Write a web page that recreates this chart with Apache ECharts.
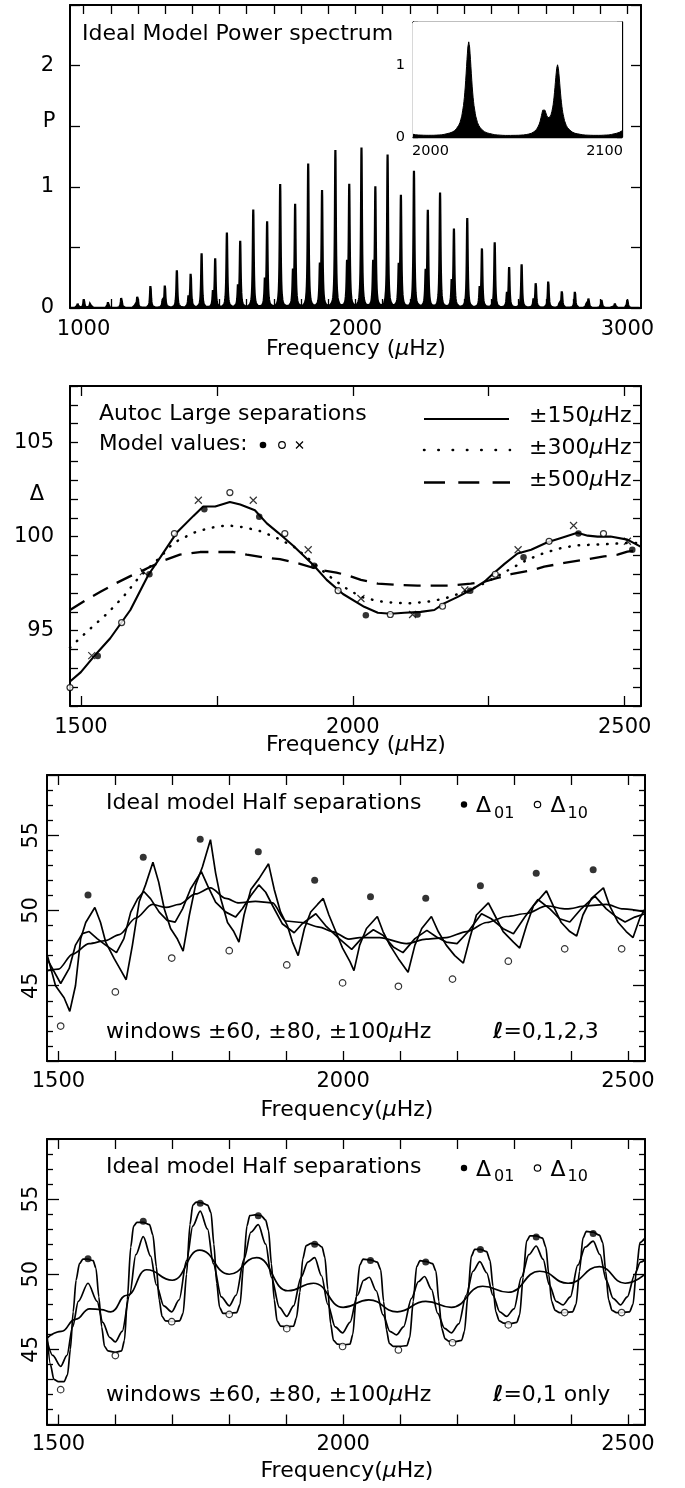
<!DOCTYPE html>
<html>
<head>
<meta charset="utf-8">
<script src="https://cdn.jsdelivr.net/npm/echarts@6/dist/echarts.min.js"></script>
<style>
  html, body { margin: 0; padding: 0; background: #fff; }
  #chart { width: 685px; height: 1488px; }
</style>
</head>
<body>
<div id="chart"></div>
<script>
const FONT = '"DejaVu Sans", "Liberation Sans", sans-serif';
const INK = '#000';
const TEXT_SIZE = 22;
const TICK_SIZE = 21;

// ---------- Panel 1: ideal model power spectrum ----------
// l=1 and l=0 mode frequencies (µHz) with peak power
const SPEC_FREQ = [978, 1001, 1025, 1090, 1139, 1198, 1246, 1299, 1343, 1394, 1434, 1484, 1527, 1576, 1624, 1675,
  1723, 1778, 1826, 1877, 1926, 1977, 2022, 2073, 2118, 2167, 2215, 2266, 2311, 2362, 2411, 2465, 2512, 2565,
  2611, 2663, 2709, 2759, 2807, 2857, 2905, 2954, 3000];
const SPEC_POWER = [0.035, 0.075, 0.05, 0.05, 0.10, 0.11, 0.19, 0.19, 0.31, 0.29, 0.45, 0.40, 0.62, 0.54, 0.81, 0.70,
  1.02, 0.84, 1.19, 0.95, 1.30, 1.00, 1.32, 0.98, 1.26, 0.91, 1.13, 0.79, 0.95, 0.64, 0.74, 0.48, 0.54, 0.33,
  0.36, 0.21, 0.23, 0.14, 0.14, 0.08, 0.07, 0.035, 0.07];
// l=2 companions just below each l=0 mode
const SPEC2_FREQ = [1190, 1291, 1386, 1476, 1568, 1667, 1770, 1869, 1969, 2065, 2159, 2258, 2354, 2457, 2557, 2655, 2751, 2849, 2946];
const SPEC2_POWER = [0.03, 0.06, 0.09, 0.13, 0.17, 0.22, 0.27, 0.31, 0.33, 0.33, 0.31, 0.27, 0.21, 0.16, 0.11, 0.07, 0.045, 0.03, 0.015];
// shape of one resolved mode: distance from centre (µHz) -> fraction of peak power
const LINE_PROFILE_OFFSET = [0, 0.5, 1, 1.5, 2, 2.5, 3, 4, 5, 6, 8, 10, 15, 20, 30, 50];
const LINE_PROFILE_LEVEL  = [1, 0.946, 0.815, 0.662, 0.524, 0.414, 0.329, 0.216, 0.150, 0.109, 0.064, 0.042, 0.019, 0.011, 0.005, 0.002];

// ---------- Panel 2: large separations (autocorrelation) ----------
const LARGE_W150 = [[1480,92.3],[1500,92.8],[1523,93.6],[1554,94.6],[1591,96.1],[1624,97.96],[1646,98.9],[1676,100.2],
  [1707,101.1],[1725,101.6],[1747,101.6],[1774,101.84],[1793,101.7],[1820,101.4],[1842,100.7],[1863,100.2],[1891,99.5],
  [1927,98.5],[1952,97.7],[1982,96.95],[2021,96.27],[2046,95.95],[2070,95.9],[2095,95.95],[2125,96.0],[2150,96.1],
  [2168,96.45],[2193,96.8],[2217,97.16],[2242,97.6],[2257,98.0],[2279,98.55],[2303,99.1],[2328,99.3],[2358,99.7],
  [2383,99.93],[2413,100.2],[2432,100.05],[2450,100.0],[2474,100.0],[2505,99.84],[2530,99.45]];
const LARGE_W300 = [[1480,94.1],[1487,94.3],[1517,95.1],[1548,95.9],[1578,96.8],[1603,97.7],[1627,98.4],[1646,98.9],
  [1670,99.66],[1707,100.2],[1737,100.46],[1768,100.6],[1799,100.5],[1829,100.3],[1860,99.93],[1891,99.48],[1921,98.77],
  [1952,98.0],[1985,97.3],[2015,96.8],[2046,96.57],[2077,96.48],[2107,96.46],[2138,96.54],[2168,96.7],[2199,97.0],
  [2230,97.35],[2260,97.8],[2291,98.3],[2321,98.77],[2352,99.13],[2383,99.39],[2413,99.54],[2444,99.57],[2474,99.61],
  [2505,99.66],[2530,99.66]];
const LARGE_W500 = [[1480,96.1],[1511,96.66],[1536,97.07],[1563,97.5],[1591,97.9],[1621,98.3],[1652,98.73],[1682,99.04],
  [1719,99.18],[1750,99.18],[1780,99.18],[1805,99.04],[1835,98.9],[1866,98.8],[1903,98.55],[1940,98.23],[1970,98.09],
  [1995,97.9],[2015,97.7],[2046,97.5],[2083,97.43],[2119,97.4],[2156,97.4],[2181,97.4],[2217,97.5],[2242,97.6],
  [2266,97.8],[2291,98.0],[2328,98.2],[2352,98.4],[2389,98.6],[2426,98.77],[2462,98.95],[2487,99.04],[2505,99.2],[2530,99.3]];
const MODEL_L0 = [[1531,93.66],[1626,98.0],[1727,101.45],[1828,101.05],[1929,98.45],[2024,95.82],[2119,95.86],
  [2216,97.12],[2314,98.9],[2415,100.16],[2514,99.3]];
const MODEL_L1 = [[1480,91.98],[1575,95.43],[1672,100.16],[1774,102.34],[1875,100.16],[1973,97.13],[2069,95.86],
  [2165,96.3],[2262,98.0],[2361,99.75],[2461,100.16]];
const MODEL_L2 = [[1520,93.68],[1615,98.14],[1716,101.93],[1817,101.93],[1918,99.3],[2015,96.71],[2110,95.86],
  [2206,97.16],[2304,99.3],[2406,100.59],[2505,99.75]];

// ---------- Panels 3 and 4: half separations ----------
const HALF_D01 = [[1552,51.03],[1649,53.53],[1749,54.73],[1851,53.9],[1950,52.0],[2048,50.92],[2145,50.81],
  [2241,51.64],[2339,52.48],[2439,52.71]];
const HALF_D10 = [[1504,42.32],[1600,44.59],[1699,46.84],[1800,47.33],[1901,46.38],[1999,45.19],[2097,44.96],
  [2192,45.44],[2290,46.63],[2389,47.45],[2489,47.45]];

// l = 0,1,2,3 spectrum, windows ±60, ±80, ±100 µHz
const ALL_W60 = [[1480,47.1],[1495,45.0],[1510,44.2],[1520,43.3],[1530,45.0],[1539,48.1],[1548,49.2],[1564,50.2],
  [1574,49.2],[1583,47.9],[1598,46.8],[1607,46.2],[1619,45.4],[1630,47.7],[1642,50.6],[1653,51.7],[1666,53.2],
  [1676,51.9],[1686,50.1],[1697,48.8],[1709,48.1],[1719,47.3],[1730,49.7],[1741,51.7],[1753,52.9],[1767,54.7],
  [1776,52.5],[1785,50.8],[1797,49.2],[1808,48.6],[1817,47.9],[1826,49.7],[1838,51.4],[1852,52.1],[1869,53.1],
  [1879,51.4],[1890,49.9],[1902,49.0],[1911,47.9],[1921,47.0],[1932,48.8],[1943,49.9],[1955,50.4],[1965,50.8],
  [1975,49.7],[1987,48.6],[1999,47.5],[2012,46.6],[2019,46.0],[2029,47.7],[2041,48.8],[2060,49.6],[2070,48.6],
  [2082,47.7],[2097,46.8],[2114,45.9],[2126,47.7],[2138,48.8],[2155,49.6],[2167,48.6],[2181,47.7],[2196,47.0],
  [2211,46.5],[2222,48.1],[2234,49.7],[2255,50.5],[2266,49.7],[2281,48.6],[2299,47.9],[2310,47.5],[2322,49.0],
  [2334,50.3],[2357,51.3],[2369,50.3],[2383,49.2],[2398,48.6],[2410,48.3],[2421,49.7],[2436,50.8],[2457,51.5],
  [2468,50.3],[2483,49.2],[2497,48.6],[2509,48.2],[2521,49.5],[2530,50.1]];
const ALL_W80 = [[1480,46.8],[1504,45.15],[1519,46.15],[1530,47.7],[1542,48.46],[1554,48.6],[1568,48.13],[1583,47.7],
  [1602,47.2],[1615,48.13],[1627,49.89],[1639,50.77],[1650,51.26],[1662,50.77],[1677,49.89],[1691,49.34],[1705,49.23],
  [1718,50.11],[1732,51.43],[1751,52.58],[1762,51.65],[1776,50.55],[1794,49.89],[1811,49.56],[1823,50.11],[1838,50.99],
  [1852,51.7],[1864,51.21],[1876,50.33],[1893,49.12],[1914,48.52],[1928,49.12],[1952,49.78],[1969,49.0],[1993,48.13],
  [2015,47.42],[2032,48.13],[2053,48.72],[2070,48.35],[2088,47.58],[2105,47.2],[2126,48.13],[2147,48.68],[2164,48.24],
  [2181,47.9],[2200,47.8],[2219,48.57],[2243,49.78],[2260,49.45],[2281,48.79],[2299,48.46],[2319,49.56],[2342,50.73],
  [2363,50.11],[2380,49.45],[2398,49.23],[2418,50.11],[2442,50.95],[2462,50.11],[2480,49.56],[2495,49.23],[2512,49.56],
  [2530,49.78]];
const ALL_W100 = [[1480,46.0],[1500,46.1],[1525,47.1],[1554,47.8],[1583,48.0],[1607,48.4],[1636,49.5],[1665,50.4],
  [1689,50.2],[1712,50.4],[1741,51.1],[1767,51.5],[1794,50.8],[1817,50.5],[1846,50.6],[1876,50.5],[1899,49.3],
  [1928,49.2],[1958,48.9],[1981,48.6],[2010,48.1],[2029,48.2],[2064,48.2],[2111,47.8],[2146,48.1],[2181,48.2],
  [2217,48.6],[2252,49.2],[2287,49.6],[2322,49.8],[2357,50.3],[2392,50.1],[2427,50.3],[2462,50.4],[2492,50.1],[2530,49.9]];

// l = 0,1 only spectrum, windows ±60, ±80, ±100 µHz
const L01_W60 = [[1480,46.0],[1486,44.0],[1492,43.0],[1500,42.85],[1510,42.85],[1516,43.3],[1521,45.0],[1526,47.5],
  [1531,49.6],[1537,50.7],[1543,51.0],[1552,51.0],[1561,50.9],[1566,50.4],[1571,48.5],[1576,46.5],[1581,45.2],
  [1587,44.9],[1600,44.8],[1611,44.9],[1616,45.6],[1621,48.3],[1627,51.8],[1632,53.2],[1638,53.45],[1649,53.45],
  [1660,53.3],[1666,52.6],[1672,50.5],[1677,48.3],[1682,47.2],[1688,46.9],[1699,46.85],[1713,46.9],[1719,47.4],
  [1725,50.0],[1731,53.3],[1736,54.6],[1742,54.8],[1752,54.75],[1762,54.6],[1768,54.1],[1773,52.0],[1778,49.4],
  [1783,47.8],[1789,47.4],[1800,47.4],[1813,47.45],[1819,48.0],[1825,50.6],[1831,53.2],[1836,53.9],[1845,53.95],
  [1856,53.9],[1864,53.6],[1869,52.9],[1874,50.7],[1879,48.3],[1884,46.9],[1890,46.55],[1901,46.5],[1913,46.55],
  [1918,47.1],[1924,48.8],[1929,51.0],[1935,51.9],[1944,52.05],[1955,52.0],[1963,51.8],[1968,51.1],[1973,49.0],
  [1978,46.7],[1983,45.6],[1990,45.35],[2000,45.3],[2012,45.35],[2017,46.0],[2023,48.5],[2029,50.6],[2035,51.0],
  [2048,50.95],[2060,50.8],[2066,50.3],[2071,48.2],[2076,46.3],[2081,45.4],[2088,45.2],[2100,45.2],[2112,45.25],
  [2117,45.8],[2123,48.2],[2129,50.5],[2135,50.9],[2145,50.85],[2157,50.7],[2163,50.2],[2168,48.2],[2173,46.4],
  [2179,45.7],[2185,45.55],[2195,45.5],[2208,45.6],[2213,46.2],[2219,48.6],[2225,51.2],[2231,51.65],[2241,51.65],
  [2252,51.5],[2258,50.9],[2263,49.2],[2268,47.5],[2274,46.9],[2282,46.75],[2292,46.7],[2305,46.8],[2310,47.3],
  [2316,49.8],[2322,52.2],[2328,52.55],[2339,52.55],[2350,52.4],[2356,51.8],[2361,50.0],[2366,48.2],[2372,47.6],
  [2380,47.45],[2390,47.45],[2403,47.5],[2409,48.0],[2415,50.2],[2421,52.4],[2427,52.85],[2439,52.8],[2450,52.6],
  [2456,52.1],[2461,50.2],[2466,48.3],[2472,47.6],[2480,47.45],[2490,47.45],[2503,47.5],[2509,48.0],[2515,50.3],
  [2521,52.1],[2530,52.4]];
const L01_W80 = [[1480,45.6],[1490,44.6],[1504,43.87],[1515,44.6],[1525,46.5],[1535,48.2],[1552,49.4],[1568,48.2],
  [1578,46.8],[1590,45.8],[1600,45.5],[1612,46.2],[1625,48.6],[1636,51.3],[1649,52.5],[1662,51.2],[1672,49.3],
  [1685,47.9],[1699,47.5],[1712,48.3],[1725,50.9],[1736,53.2],[1749,54.2],[1762,53.0],[1772,50.7],[1786,48.5],
  [1800,47.9],[1812,48.6],[1826,51.0],[1838,52.8],[1851,53.3],[1864,52.0],[1874,49.8],[1888,47.8],[1901,47.2],
  [1913,47.9],[1926,49.8],[1938,50.8],[1950,51.1],[1962,49.9],[1973,48.0],[1986,46.5],[1999,46.1],[2012,46.8],
  [2025,48.6],[2036,49.6],[2046,49.8],[2058,48.9],[2070,47.3],[2082,46.2],[2094,45.97],[2106,46.5],[2120,48.4],
  [2132,49.5],[2143,49.85],[2155,49.0],[2166,47.4],[2178,46.4],[2190,46.1],[2203,46.7],[2216,48.6],[2228,50.2],
  [2240,50.84],[2252,50.1],[2263,48.6],[2275,47.5],[2287,47.19],[2300,47.7],[2313,49.8],[2326,51.3],[2339,51.88],
  [2351,51.0],[2362,49.3],[2374,48.2],[2386,47.96],[2399,48.5],[2412,50.6],[2425,51.8],[2439,52.2],[2451,51.3],
  [2462,49.6],[2474,48.4],[2487,47.96],[2499,48.5],[2512,50.0],[2522,50.8],[2530,50.95]];
const L01_W100 = [[1480,45.75],[1505,46.2],[1530,47.0],[1555,47.7],[1575,47.65],[1592,47.5],[1620,48.6],[1655,50.3],
  [1700,49.6],[1748,51.6],[1800,50.0],[1848,51.1],[1903,48.9],[1948,49.4],[2000,47.8],[2045,48.3],[2095,47.5],
  [2145,48.2],[2190,47.8],[2245,49.2],[2290,48.8],[2345,50.2],[2395,49.4],[2450,50.5],[2495,49.4],[2530,50.0]];

// tick positions
const P1_XTICKS = []; for (let f = 1000; f <= 3000; f += 100) P1_XTICKS.push(f);
const P1_XLABELS = [1000, 2000, 3000];
const P2_XTICKS = [1500, 1750, 2000, 2250, 2500];
const HALF_XTICKS = []; for (let f = 1500; f <= 2500; f += 100) HALF_XTICKS.push(f);
const WIDE_XLABELS = [1500, 2000, 2500];
const INSET_XTICKS = [2000, 2050, 2100];
const INSET_XLABELS = [2000, 2100];

// ---------- spectrum built from the mode list ----------
function lineShape(d) {
  d = Math.abs(d);
  const o = LINE_PROFILE_OFFSET, l = LINE_PROFILE_LEVEL;
  if (d >= o[o.length - 1]) return 0;
  let i = 1;
  while (o[i] < d) i++;
  const t = (d - o[i - 1]) / (o[i] - o[i - 1]);
  return l[i - 1] + t * (l[i] - l[i - 1]);
}
function powerSpectrum(f0, f1, step) {
  const fr = SPEC_FREQ.concat(SPEC2_FREQ), pw = SPEC_POWER.concat(SPEC2_POWER);
  const n = Math.round((f1 - f0) / step), out = [];
  for (let k = 0; k <= n; k++) {
    const f = f0 + k * step;
    let p = 0;
    for (let j = 0; j < fr.length; j++) {
      const d = f - fr[j];
      if (d > -50 && d < 50) p += pw[j] * lineShape(d);
    }
    out.push([f, p]);
  }
  return out;
}

// ---------- axes ----------
const plain = v => String(v);
const xAxes = [], yAxes = [];
function addX(grid, min, max, ticks, tickLen, labels, size, margin, lineW) {
  const mk = (pos, withLabels) => ({
    type: 'value', gridIndex: grid, position: pos, min: min, max: max,
    axisLine: { show: true, onZero: false, lineStyle: { color: INK, width: lineW } },
    axisTick: { show: true, inside: true, length: tickLen, customValues: ticks, lineStyle: { color: INK, width: 1.3 } },
    axisLabel: withLabels
      ? { show: true, customValues: labels, formatter: plain, margin: margin, fontSize: size, fontFamily: FONT, color: INK }
      : { show: false },
    splitLine: { show: false }
  });
  xAxes.push(mk('bottom', true), mk('top', false));
  return xAxes.length - 2;
}
function addY(grid, min, max, interval, tickLen, fmt, label, minor, lineW) {
  const mk = (pos, withLabels) => ({
    type: 'value', gridIndex: grid, position: pos, min: min, max: max, interval: interval,
    axisLine: { show: true, onZero: false, lineStyle: { color: INK, width: lineW } },
    axisTick: { show: true, inside: true, length: tickLen, lineStyle: { color: INK, width: 1.3 } },
    minorTick: minor ? { show: true, splitNumber: minor.split, length: minor.len, lineStyle: { color: INK, width: 1.3 } } : { show: false },
    axisLabel: withLabels
      ? Object.assign({ show: true, formatter: fmt, fontSize: label.size, fontFamily: FONT, color: INK, margin: label.margin }, label.rotate ? { rotate: label.rotate } : {})
      : { show: false },
    splitLine: { show: false }, minorSplitLine: { show: false }
  });
  yAxes.push(mk('left', true), mk('right', false));
  return yAxes.length - 2;
}
const isInt = v => Math.abs(v - Math.round(v)) < 1e-6;
const onlyInt = v => isInt(v) ? String(Math.round(v)) : '';
const every5 = v => (isInt(v) && Math.round(v) % 5 === 0) ? String(Math.round(v)) : '';
const fiveLabels = v => (v === 45 || v === 50 || v === 55) ? String(v) : '';
const insetY = v => (v === 0 || v === 1) ? String(v) : '';

const x1 = addX(0, 950, 3050, P1_XTICKS, 9, P1_XLABELS, TICK_SIZE, 11, 2);
const y1 = addY(0, 0, 2.5, 0.5, 10, onlyInt, { size: TICK_SIZE, margin: 16 }, null, 2);
const xi = addX(1, 1990, 2110, INSET_XTICKS, 5, INSET_XLABELS, 14.5, 7, 1.3);
const yi = addY(1, 0, 1.6, 0.5, 5, insetY, { size: 14.5, margin: 8 }, null, 1.3);
const x2 = addX(2, 1480, 2530, P2_XTICKS, 10, WIDE_XLABELS, TICK_SIZE, 11, 2);
const y2 = addY(2, 91, 108, 1, 8, every5, { size: TICK_SIZE, margin: 16 }, null, 2);
const x3 = addX(3, 1480, 2530, HALF_XTICKS, 10, WIDE_XLABELS, TICK_SIZE, 10, 2);
const y3 = addY(3, 40, 59, 5, 12, fiveLabels, { size: TICK_SIZE, margin: 5, rotate: 90 }, { split: 5, len: 6 }, 2);
const x4 = addX(4, 1480, 2530, HALF_XTICKS, 10, WIDE_XLABELS, TICK_SIZE, 10, 2);
const y4 = addY(4, 40, 59, 5, 12, fiveLabels, { size: TICK_SIZE, margin: 5, rotate: 90 }, { split: 5, len: 6 }, 2);

// ---------- series ----------
function curve(xi_, yi_, data, style, smooth) {
  return { type: 'line', xAxisIndex: xi_, yAxisIndex: yi_, data: data, showSymbol: false, symbol: 'none',
    smooth: smooth || false, smoothMonotone: 'x', lineStyle: Object.assign({ color: INK, width: 1.7 }, style),
    silent: true, z: 3 };
}
function dots(xi_, yi_, data, kind, size) {
  const s = { type: 'scatter', xAxisIndex: xi_, yAxisIndex: yi_, data: data, symbolSize: size, silent: true, z: 4 };
  if (kind === 'filled') { s.symbol = 'circle'; s.itemStyle = { color: INK }; }
  else if (kind === 'open') { s.symbol = 'circle'; s.itemStyle = { color: '#fff', borderColor: INK, borderWidth: 1.2 }; }
  else { s.symbol = 'path://M0,0L10,10M10,0L0,10'; s.itemStyle = { color: 'rgba(0,0,0,0)', borderColor: INK, borderWidth: 1.2 }; }
  return s;
}

const series = [
  { type: 'line', xAxisIndex: x1, yAxisIndex: y1, data: powerSpectrum(950, 3050, 0.5), showSymbol: false, symbol: 'none',
    lineStyle: { color: INK, width: 2.2, join: 'miter', miterLimit: 3 }, areaStyle: { color: INK, opacity: 1 }, silent: true, z: 2 },
  { type: 'line', xAxisIndex: xi, yAxisIndex: yi, data: powerSpectrum(1990, 2110, 0.25), showSymbol: false, symbol: 'none',
    lineStyle: { color: INK, width: 1 }, areaStyle: { color: INK, opacity: 1 }, silent: true, z: 2 },

  curve(x2, y2, LARGE_W150, { width: 2.1 }),
  curve(x2, y2, LARGE_W300, { width: 2.5, type: [0.5, 9], cap: 'round' }),
  curve(x2, y2, LARGE_W500, { width: 2.3, type: [17, 10] }),
  dots(x2, y2, MODEL_L0, 'filled', 6.5),
  dots(x2, y2, MODEL_L1, 'open', 6),
  dots(x2, y2, MODEL_L2, 'cross', 7),

  curve(x3, y3, ALL_W60, {}),
  curve(x3, y3, ALL_W80, {}),
  curve(x3, y3, ALL_W100, {}, 0.3),
  dots(x3, y3, HALF_D01, 'filled', 7),
  dots(x3, y3, HALF_D10, 'open', 6.5),

  curve(x4, y4, L01_W60, {}, 0.25),
  curve(x4, y4, L01_W80, {}, 0.3),
  curve(x4, y4, L01_W100, {}, 0.5),
  dots(x4, y4, HALF_D01, 'filled', 7),
  dots(x4, y4, HALF_D10, 'open', 6.5)
];

// ---------- annotations ----------
function txt(x, y, text, opts) {
  opts = opts || {};
  const align = opts.align || 'left';
  const st = { text: text, fontSize: opts.size || TEXT_SIZE, fontFamily: FONT, fill: INK,
    align: align, textAlign: align, verticalAlign: 'middle', textVerticalAlign: 'middle' };
  if (opts.rich) st.rich = opts.rich;
  return { type: 'text', x: x, y: y, silent: true, z: 10, style: st };
}
const muRich = size => ({ m: { fontStyle: 'italic', fontSize: size, fontFamily: FONT, fill: INK } });
const ellRich = { l: { fontStyle: 'italic', fontWeight: 'bold', fontSize: TEXT_SIZE, fontFamily: FONT, fill: INK } };
function seg(x1_, y1_, x2_, y2_, w, dash, cap) {
  return { type: 'line', silent: true, z: 10, shape: { x1: x1_, y1: y1_, x2: x2_, y2: y2_ },
    style: { stroke: INK, lineWidth: w, lineDash: dash || null, lineCap: cap || 'butt' } };
}
function dot(cx, cy, r, open) {
  return { type: 'circle', silent: true, z: 10, shape: { cx: cx, cy: cy, r: r },
    style: open ? { fill: '#fff', stroke: INK, lineWidth: 1.2 } : { fill: INK } };
}
function halfLegend(y) {
  return [
    txt(106, y, 'Ideal model Half separations'),
    dot(464, y + 1, 3.2),
    txt(476, y + 3, 'Δ'),
    txt(494, y + 10, '01', { size: 16 }),
    dot(537.5, y + 1, 3.2, true),
    txt(550.5, y + 3, 'Δ'),
    txt(567.5, y + 10, '10', { size: 16 })
  ];
}

const graphic = [].concat(
  [
    txt(82, 34.5, 'Ideal Model Power spectrum'),
    txt(49, 122, 'P', { align: 'center', size: TICK_SIZE }),
    txt(356, 349, 'Frequency ({m|μ}Hz)', { align: 'center', rich: muRich(TEXT_SIZE) }),

    txt(99, 414.5, 'Autoc Large separations'),
    txt(99, 444.5, 'Model values:', { size: 21.5 }),
    dot(263, 445, 3.3),
    dot(282, 445, 3.3, true),
    seg(296, 441.5, 303, 448.5, 1.3), seg(303, 441.5, 296, 448.5, 1.3),
    seg(424, 419, 509, 419, 2.1),
    seg(424, 450, 510, 450, 2.5, [0.5, 13.8], 'round'),
    seg(424, 482.5, 510, 482.5, 2.3, [21, 13.3]),
    txt(529, 416.5, '±150{m|μ}Hz', { rich: muRich(TEXT_SIZE) }),
    txt(529, 448, '±300{m|μ}Hz', { rich: muRich(TEXT_SIZE) }),
    txt(529, 480, '±500{m|μ}Hz', { rich: muRich(TEXT_SIZE) }),
    txt(37, 495, 'Δ', { align: 'center', size: TICK_SIZE }),
    txt(356, 745, 'Frequency ({m|μ}Hz)', { align: 'center', rich: muRich(TEXT_SIZE) })
  ],
  halfLegend(803.5),
  [
    txt(106, 1032.5, 'windows ±60, ±80, ±100{m|μ}Hz', { rich: muRich(TEXT_SIZE) }),
    txt(493, 1032.5, '{l|ℓ}=0,1,2,3', { rich: ellRich }),
    txt(347, 1110, 'Frequency({m|μ}Hz)', { align: 'center', rich: muRich(TEXT_SIZE) })
  ],
  halfLegend(1167),
  [
    txt(106, 1395, 'windows ±60, ±80, ±100{m|μ}Hz', { rich: muRich(TEXT_SIZE) }),
    txt(493, 1395, '{l|ℓ}=0,1 only', { rich: ellRich }),
    txt(347, 1471.5, 'Frequency({m|μ}Hz)', { align: 'center', rich: muRich(TEXT_SIZE) })
  ]
);

const chart = echarts.init(document.getElementById('chart'), null, { renderer: 'canvas' });
chart.setOption({
  animation: false,
  backgroundColor: '#fff',
  grid: [
    { left: 70, top: 5, width: 571, height: 303 },
    { left: 413, top: 22, width: 209, height: 115, show: true, backgroundColor: '#fff', borderWidth: 0, z: 1 },
    { left: 70, top: 386, width: 571, height: 320 },
    { left: 47, top: 775, width: 598, height: 286 },
    { left: 47, top: 1139, width: 598, height: 285.5 }
  ],
  xAxis: xAxes,
  yAxis: yAxes,
  series: series,
  graphic: graphic
});
</script>
</body>
</html>
